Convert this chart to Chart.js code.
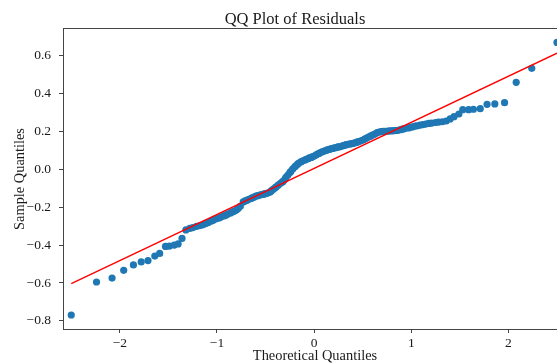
<!DOCTYPE html>
<html><head><meta charset="utf-8">
<script src="https://cdn.jsdelivr.net/npm/chart.js@4.4.0/dist/chart.umd.min.js"></script>
<style>html,body{margin:0;padding:0;background:#fff;}#wrap{width:557px;height:363px;}</style>
</head><body><div id="wrap"><canvas id="c" width="557" height="363"></canvas></div>
<script>
const chartTitle = "QQ Plot of Residuals";
const xLabel = "Theoretical Quantiles";
const yLabel = "Sample Quantiles";

const theoreticalQuantiles = [
-2.50,-2.24,-2.08,-1.96,-1.86,-1.78,-1.71,-1.64,-1.59,-1.53,-1.49,-1.44,-1.40,-1.36,-1.32,-1.28,-1.25,-1.21,-1.18,-1.15,
-1.12,-1.09,-1.06,-1.04,-1.01,-0.98,-0.96,-0.93,-0.91,-0.89,-0.86,-0.84,-0.82,-0.80,-0.78,-0.76,-0.73,-0.71,-0.69,-0.67,
-0.65,-0.64,-0.62,-0.60,-0.58,-0.56,-0.54,-0.52,-0.51,-0.49,-0.47,-0.45,-0.44,-0.42,-0.40,-0.39,-0.37,-0.35,-0.33,-0.32,
-0.30,-0.29,-0.27,-0.25,-0.24,-0.22,-0.20,-0.19,-0.17,-0.16,-0.14,-0.13,-0.11,-0.09,-0.08,-0.06,-0.05,-0.03,-0.02,0.00,
0.02,0.03,0.05,0.06,0.08,0.09,0.11,0.13,0.14,0.16,0.17,0.19,0.20,0.22,0.24,0.25,0.27,0.29,0.30,0.32,
0.33,0.35,0.37,0.39,0.40,0.42,0.44,0.45,0.47,0.49,0.51,0.52,0.54,0.56,0.58,0.60,0.62,0.64,0.65,0.67,
0.69,0.71,0.73,0.76,0.78,0.80,0.82,0.84,0.86,0.89,0.91,0.93,0.96,0.98,1.01,1.04,1.06,1.09,1.12,1.15,
1.18,1.21,1.25,1.28,1.32,1.36,1.40,1.44,1.49,1.53,1.59,1.64,1.71,1.78,1.86,1.96,2.08,2.24,2.50
];

const sampleQuantiles = [
-0.769,-0.595,-0.574,-0.533,-0.505,-0.489,-0.482,-0.458,-0.444,-0.407,-0.405,-0.400,-0.394,-0.365,-0.320,-0.312,-0.308,-0.301,-0.298,-0.294,
-0.288,-0.281,-0.274,-0.269,-0.262,-0.257,-0.252,-0.246,-0.242,-0.237,-0.230,-0.225,-0.220,-0.215,-0.206,-0.195,-0.172,-0.167,-0.163,-0.158,
-0.154,-0.151,-0.147,-0.142,-0.139,-0.136,-0.134,-0.131,-0.130,-0.127,-0.124,-0.119,-0.113,-0.105,-0.097,-0.092,-0.084,-0.075,-0.068,-0.064,
-0.052,-0.042,-0.030,-0.017,-0.011,0.002,0.012,0.018,0.027,0.032,0.038,0.041,0.046,0.050,0.053,0.057,0.060,0.063,0.066,0.070,
0.075,0.079,0.084,0.087,0.091,0.094,0.098,0.101,0.103,0.106,0.108,0.110,0.112,0.114,0.117,0.118,0.120,0.123,0.125,0.128,
0.130,0.132,0.134,0.136,0.137,0.140,0.143,0.145,0.148,0.152,0.156,0.160,0.165,0.170,0.175,0.180,0.185,0.190,0.194,0.197,
0.199,0.200,0.201,0.202,0.203,0.203,0.204,0.205,0.206,0.209,0.212,0.215,0.218,0.220,0.224,0.228,0.230,0.233,0.236,0.239,
0.242,0.244,0.247,0.249,0.251,0.255,0.266,0.278,0.292,0.315,0.315,0.317,0.320,0.343,0.345,0.352,0.459,0.533,0.670
];

const fitLineX = [-2.50, 2.50];
const fitLineY = [-0.603, 0.613];

const xTicks = [-2, -1, 0, 1, 2];
const yTicks = [-0.8, -0.6, -0.4, -0.2, 0.0, 0.2, 0.4, 0.6];

const SERIF = "'Liberation Serif','Times New Roman',serif";
Chart.defaults.font.family = SERIF;
Chart.defaults.color = '#1a1a1a';

function fmtNum(v, d) {
  const s = Math.abs(v).toFixed(d);
  return (v < -1e-9 ? '\u2212' : '') + s;
}

const textPlugin = {
  id: 'textPlugin',
  afterDraw(chart) {
    const ctx = chart.ctx;
    const a = chart.chartArea;
    ctx.save();
    ctx.strokeStyle = '#444';
    ctx.lineWidth = 1;
    ctx.beginPath();
    ctx.moveTo(a.left, a.top + 0.5);
    ctx.lineTo(a.right, a.top + 0.5);
    ctx.stroke();
    ctx.fillStyle = '#1a1a1a';
    ctx.textAlign = 'center';
    ctx.textBaseline = 'alphabetic';
    ctx.font = '16.5px ' + SERIF;
    ctx.fillText(chartTitle, 295, 24);
    ctx.font = '14.4px ' + SERIF;
    ctx.fillText(xLabel, 315, 360);
    ctx.translate(23.5, 179);
    ctx.rotate(-Math.PI / 2);
    ctx.fillText(yLabel, 0, 0);
    ctx.restore();
  }
};

new Chart(document.getElementById('c'), {
  type: 'scatter',
  data: {
    datasets: [
      {
        type: 'line',
        data: fitLineX.map((x, i) => ({ x: x, y: fitLineY[i] })),
        borderColor: '#ff0000',
        borderWidth: 1.4,
        pointRadius: 0,
        fill: false,
        order: 0
      },
      {
        data: theoreticalQuantiles.map((x, i) => ({ x: x, y: sampleQuantiles[i] })),
        backgroundColor: '#1f77b4',
        borderWidth: 0,
        pointRadius: 3.6,
        clip: false,
        order: 1
      }
    ]
  },
  options: {
    responsive: false,
    animation: false,
    devicePixelRatio: 1,
    layout: { autoPadding: false, padding: { top: 28, right: 0, left: 0, bottom: 0 } },
    plugins: { legend: { display: false }, tooltip: { enabled: false }, title: { display: false } },
    scales: {
      x: {
        type: 'linear',
        position: 'bottom',
        min: -2.585,
        max: 2.50,
        afterBuildTicks: s => { s.ticks = xTicks.map(v => ({ value: v })); },
        afterFit: s => { s.height = 34; s.paddingLeft = 0; s.paddingRight = 0; },
        ticks: {
          callback: v => fmtNum(v, 0),
          font: { size: 13.5 },
          color: '#1a1a1a',
          padding: 2,
          maxRotation: 0,
          autoSkip: false
        },
        grid: { drawOnChartArea: false, drawTicks: true, tickLength: 4, tickColor: '#444', tickWidth: 1 },
        border: { display: true, color: '#444', width: 1 }
      },
      y: {
        type: 'linear',
        min: -0.843,
        max: 0.746,
        afterBuildTicks: s => { s.ticks = yTicks.map(v => ({ value: v })); },
        afterFit: s => { s.width = 63; s.paddingTop = 0; s.paddingBottom = 0; },
        ticks: {
          callback: v => fmtNum(v, 1),
          font: { size: 13.5 },
          color: '#1a1a1a',
          padding: 8,
          autoSkip: false
        },
        grid: { drawOnChartArea: false, drawTicks: true, tickLength: 4, tickColor: '#444', tickWidth: 1 },
        border: { display: true, color: '#444', width: 1 }
      }
    }
  },
  plugins: [textPlugin]
});
</script>
</body></html>
